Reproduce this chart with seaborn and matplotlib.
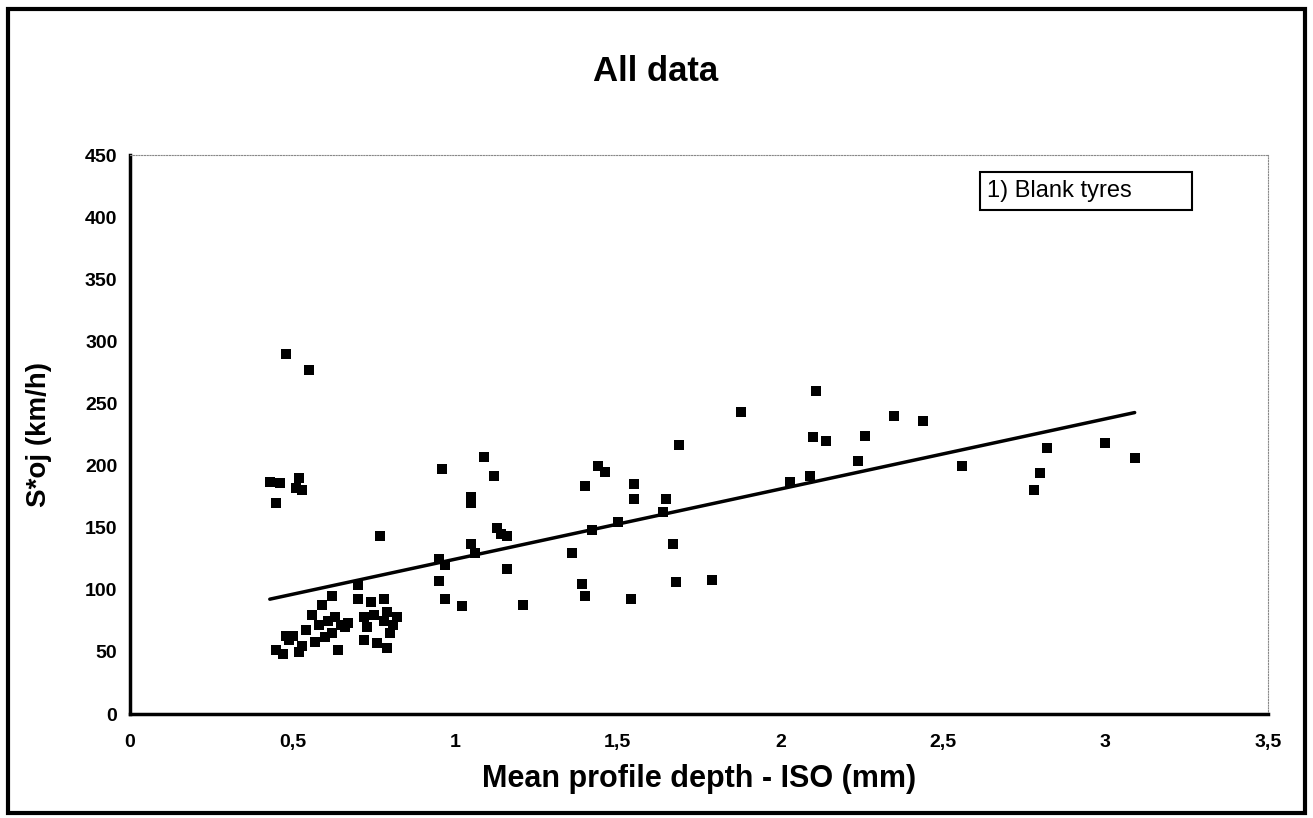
import numpy as np
import pandas as pd
import matplotlib
matplotlib.use('Agg')
import matplotlib.pyplot as plt
from matplotlib.patches import Rectangle
import seaborn as sns

# Data (x: mean profile depth, y: S*oj)
depth_low = [0.43, 0.45, 0.46, 0.48, 0.51, 0.52, 0.53, 0.55,
             0.45, 0.47, 0.48, 0.49, 0.50, 0.52, 0.53, 0.54, 0.56, 0.57,
             0.58, 0.59, 0.60, 0.61, 0.62, 0.62, 0.63, 0.64, 0.65, 0.66,
             0.67, 0.70, 0.70, 0.72, 0.72, 0.73, 0.74, 0.75, 0.76, 0.77,
             0.78, 0.78, 0.79, 0.79, 0.80, 0.81, 0.82]
speed_low = [187, 170, 186, 290, 182, 190, 180, 277,
             52, 48, 63, 60, 63, 50, 55, 68, 80, 58,
             72, 88, 62, 75, 95, 65, 78, 52, 72, 70,
             73, 104, 93, 60, 78, 70, 90, 80, 57, 143,
             93, 75, 82, 53, 65, 72, 78]

depth_mid = [0.95, 0.95, 0.96, 0.97, 0.97, 1.02, 1.05, 1.05, 1.05, 1.06,
             1.09, 1.12, 1.13, 1.14, 1.16, 1.16, 1.21, 1.36, 1.39, 1.40,
             1.40, 1.42, 1.44, 1.46, 1.50, 1.54, 1.55, 1.55, 1.64, 1.65,
             1.67, 1.68, 1.69, 1.79]
speed_mid = [125, 107, 197, 93, 120, 87, 175, 170, 137, 130,
             207, 192, 150, 145, 143, 117, 88, 130, 105, 184,
             95, 148, 200, 195, 155, 93, 185, 173, 163, 173,
             137, 106, 217, 108]

depth_high = [1.88, 2.03, 2.09, 2.10, 2.11, 2.14, 2.24, 2.26, 2.35, 2.44,
              2.56, 2.78, 2.80, 2.82, 3.00, 3.09]
speed_high = [243, 187, 192, 223, 260, 220, 204, 224, 240, 236,
              200, 180, 194, 214, 218, 206]

x_ticks = [0, 0.5, 1, 1.5, 2, 2.5, 3, 3.5]
x_ticklabels = ['0', '0,5', '1', '1,5', '2', '2,5', '3', '3,5']
y_ticks = [0, 50, 100, 150, 200, 250, 300, 350, 400, 450]

df = pd.DataFrame({
    'depth': depth_low + depth_mid + depth_high,
    'speed': speed_low + speed_mid + speed_high,
})

sns.set_style('white')
plt.rcParams['font.family'] = ['Liberation Sans', 'DejaVu Sans']
plt.rcParams['text.color'] = 'black'
plt.rcParams['axes.labelcolor'] = 'black'

fig = plt.figure(figsize=(13.13, 8.18), dpi=100)
ax = fig.add_axes([0.099, 0.127, 0.8667, 0.6835])

# scatter + linear trendline
sns.regplot(data=df, x='depth', y='speed', ax=ax, ci=None, truncate=True,
            marker='s', color='black',
            scatter_kws={'s': 42, 'linewidths': 0, 'alpha': 1},
            line_kws={'color': 'black', 'linewidth': 2.5})

ax.set_xlim(0, 3.5)
ax.set_ylim(0, 450)
ax.set_xticks(x_ticks)
ax.set_xticklabels(x_ticklabels)
ax.set_yticks(y_ticks)
ax.tick_params(axis='both', direction='inout', length=10, width=1.5,
               colors='black', labelsize=14)
ax.tick_params(axis='x', pad=9)
ax.tick_params(axis='y', pad=4)
for lbl in ax.get_xticklabels() + ax.get_yticklabels():
    lbl.set_fontweight('bold')

for side in ['left', 'bottom']:
    ax.spines[side].set_color('black')
    ax.spines[side].set_linewidth(2.5)
for side in ['top', 'right']:
    ax.spines[side].set_color('#888888')
    ax.spines[side].set_linewidth(0.8)
    ax.spines[side].set_linestyle((0, (1, 1.5)))

ax.set_xlabel('Mean profile depth - ISO (mm)', fontsize=22, fontweight='bold',
              labelpad=10)
ax.set_ylabel('S*oj (km/h)', fontsize=20, fontweight='bold', labelpad=24)

fig.text(0.499, 0.912, 'All data', ha='center', va='center',
         fontsize=25, fontweight='bold')

# legend-like label box
ax.add_patch(Rectangle((0.747, 0.902), 0.186, 0.068, transform=ax.transAxes,
                       facecolor='white', edgecolor='black', linewidth=1.5,
                       zorder=5))
ax.text(0.753, 0.936, '1) Blank tyres', transform=ax.transAxes,
        fontsize=17, va='center', ha='left', zorder=6)

# outer chart frame
fig.patches.append(Rectangle((0.006, 0.006), 0.988, 0.983,
                             transform=fig.transFigure, fill=False,
                             edgecolor='black', linewidth=3))

fig.savefig('out.png', dpi=100)
